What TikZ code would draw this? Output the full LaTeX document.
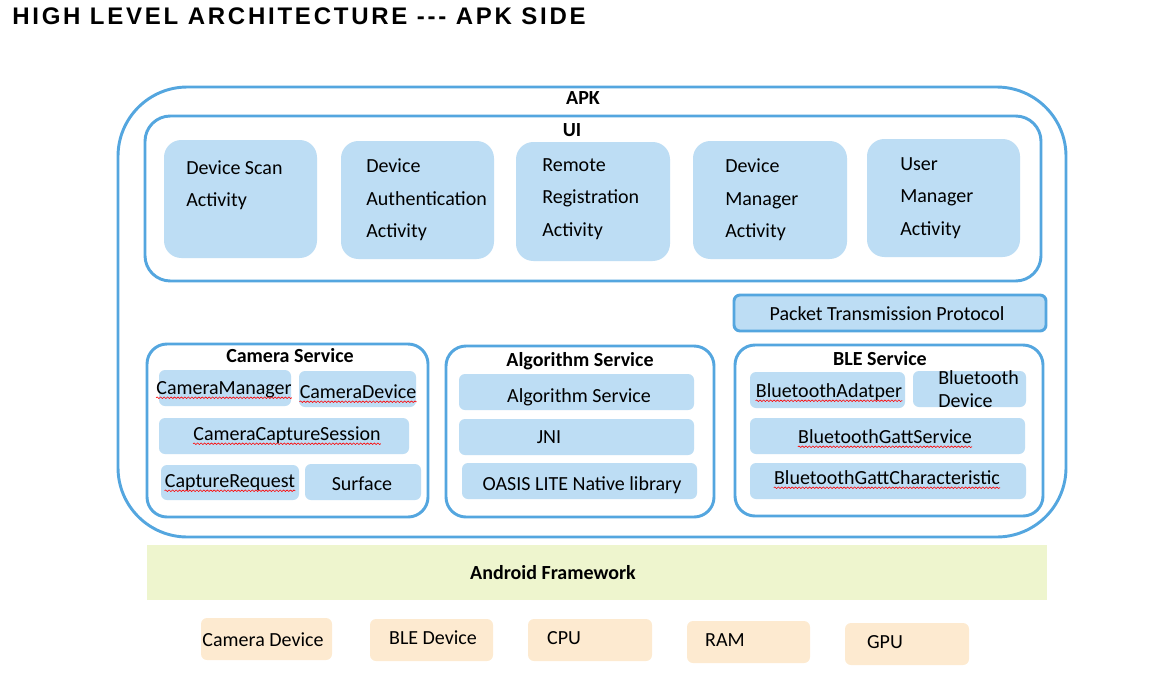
\documentclass[tikz,border=0pt]{standalone}
\usepackage{fontspec}
\setmainfont{Carlito}
\newfontfamily\titlefont[LetterSpace=11.5]{Liberation Sans Bold}
\usetikzlibrary{calc,decorations.pathmorphing}

\definecolor{apkblue}{RGB}{84,166,223}
\definecolor{boxblue}{RGB}{189,221,244}
\definecolor{fwgreen}{RGB}{238,245,206}
\definecolor{hwpeach}{RGB}{253,234,208}

\tikzset{
  frame/.style={draw=apkblue, line width=2.2pt, fill=white},
  activitybox/.style={fill=boxblue, rounded corners=13pt},
  itembox/.style={fill=boxblue, rounded corners=4.5pt},
  hwbox/.style={fill=hwpeach, rounded corners=4.5pt},
  label/.style={inner sep=0pt, text height=9.7pt, text depth=0pt, font=\fontsize{15}{18}\selectfont},
  heading/.style={label, font=\bfseries\fontsize{15}{18}\selectfont},
  multiline/.style={inner sep=0pt, align=left, anchor=west, font=\fontsize{15}{24.4}\selectfont},
  spellmark/.style={draw=red, line width=0.45pt, decorate,
    decoration={snake, amplitude=0.6pt, segment length=2.6pt}},
}
\newcommand{\squiggle}[1]{\draw[spellmark] ($(#1.south west)+(0,3)$) -- ($(#1.south east)+(0,3)$);}

\begin{document}
\begin{tikzpicture}[x=0.75pt, y=-0.75pt]
\useasboundingbox (0,0) rectangle (1159,696);

% title
\node[anchor=west, inner sep=0pt, font=\titlefont\fontsize{18}{21}\selectfont] (title) at (12,16) {HIGH LEVEL ARCHITECTURE --- APK SIDE};

% APK container and UI layer
\path[frame, rounded corners=52pt] (118,87) rectangle (1066,537);
\node[heading] (apk) at (583,98) {APK};
\path[frame, rounded corners=19pt] (145,116) rectangle (1041,281);
\node[heading] (ui) at (572,130) {UI};

% activities
\path[activitybox] (164,140) rectangle (317,258);
\node[multiline] (scan) at (186,185) {Device Scan\\Activity};
\path[activitybox] (341,141) rectangle (494,259);
\node[multiline] (auth) at (366,200) {Device\\Authentication\\Activity};
\path[activitybox] (516,142) rectangle (670,261);
\node[multiline] (reg) at (542,199) {Remote\\Registration\\Activity};
\path[activitybox] (693,141) rectangle (847,259);
\node[multiline] (devmgr) at (725,200) {Device\\Manager\\Activity};
\path[activitybox] (867,139) rectangle (1020,257);
\node[multiline] (usermgr) at (900,198) {User\\Manager\\Activity};

% packet protocol
\path[itembox, draw=apkblue, line width=2.2pt] (734,295) rectangle (1046,331);
\node[label] (ptp) at (887,314) {Packet Transmission Protocol};

% camera service
\path[frame, rounded corners=15pt] (147,344) rectangle (428,517);
\node[heading] (camsvc) at (290,356) {Camera Service};
\path[itembox] (159,370) rectangle (291,406);
\node[label] (cammgr) at (224,388) {CameraManager};
\path[itembox] (299,371) rectangle (416,407);
\node[label] (camdev) at (358,392) {CameraDevice};
\path[itembox] (159,418) rectangle (409,454);
\node[label] (camsess) at (287,434) {CameraCaptureSession};
\path[itembox] (161,465) rectangle (299,500);
\node[label] (capreq) at (230,481) {CaptureRequest};
\path[itembox] (305,464) rectangle (421,500);
\node[label] (surface) at (362,484) {Surface};
\squiggle{cammgr}
\squiggle{camdev}
\squiggle{camsess}
\squiggle{capreq}

% algorithm service
\path[frame, rounded corners=15pt] (446,346) rectangle (714,517);
\node[heading] (algsvc) at (580,360) {Algorithm Service};
\path[itembox] (459,374) rectangle (694,410);
\node[label] (alg) at (579,396) {Algorithm Service};
\path[itembox] (459,419) rectangle (694,455);
\node[label] (jni) at (549,437) {JNI};
\path[itembox] (462,463) rectangle (697,499);
\node[label] (oasis) at (582,484) {OASIS LITE Native library};

% BLE service
\path[frame, rounded corners=15pt] (735,345) rectangle (1043,516);
\node[heading] (blesvc) at (880,359) {BLE Service};
\path[itembox] (750,372) rectangle (905,408);
\node[label] (adapter) at (829,391) {BluetoothAdatper};
\path[itembox] (913,371) rectangle (1026,407);
\node[inner sep=0pt, align=left, anchor=west, font=\fontsize{15}{17.3}\selectfont] (btdev) at (938,389) {Bluetooth\\Device};
\path[itembox] (750,418) rectangle (1025,454);
\node[label] (gattsvc) at (885,437) {BluetoothGattService};
\path[itembox] (750,463) rectangle (1026,499);
\node[label] (gattchar) at (887,478) {BluetoothGattCharacteristic};
\squiggle{adapter}
\squiggle{gattsvc}
\squiggle{gattchar}

% android framework
\path[fill=fwgreen] (147,545) rectangle (1047,600);
\node[heading] (fw) at (553,573) {Android Framework};

% hardware
\path[hwbox] (201,618) rectangle (332,660);
\node[label] (hwcam) at (263,640) {Camera Device};
\path[hwbox] (370,619) rectangle (493,661);
\node[label] (hwble) at (433,638) {BLE Device};
\path[hwbox] (528,619) rectangle (652,661);
\node[label] (hwcpu) at (564,638) {CPU};
\path[hwbox] (687,621) rectangle (810,663);
\node[label] (hwram) at (725,640) {RAM};
\path[hwbox] (845,623) rectangle (969,665);
\node[label] (hwgpu) at (885,642) {GPU};
\end{tikzpicture}
\end{document}
